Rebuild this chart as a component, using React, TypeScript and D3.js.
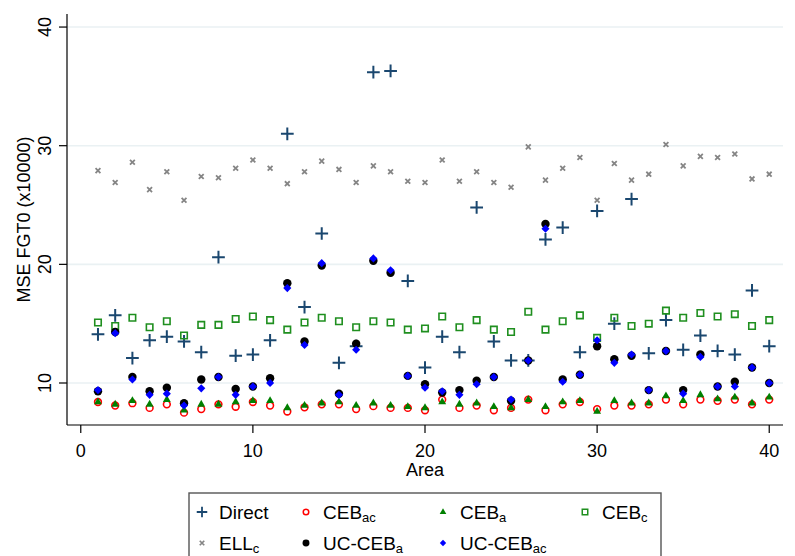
import * as d3 from "d3";

const areas = Array.from({ length: 40 }, (_, i) => i + 1);

const direct = [14.1, 15.7, 12.1, 13.6, 13.9, 13.5, 12.6, 20.6, 12.3, 12.4, 13.6, 31.0, 16.4, 22.6, 11.7, 13.1, 36.2, 36.3, 18.6, 11.3,
  13.9, 12.6, 24.8, 13.5, 11.9, 11.9, 22.1, 23.1, 12.6, 24.5, 15.0, 25.5, 12.5, 15.3, 12.8, 14.0, 12.7, 12.4, 17.8, 13.1];
const cebAc = [8.4, 8.1, 8.3, 7.9, 8.2, 7.5, 7.8, 8.2, 8.0, 8.4, 8.1, 7.6, 7.95, 8.2, 8.2, 7.8, 8.05, 7.9, 7.9, 7.7,
  8.6, 7.9, 8.1, 7.7, 7.9, 8.6, 7.7, 8.2, 8.4, 7.8, 8.1, 8.1, 8.2, 8.6, 8.2, 8.6, 8.5, 8.6, 8.2, 8.6];
const cebA = [8.4, 8.2, 8.5, 8.2, 8.6, 7.7, 8.2, 8.2, 8.4, 8.5, 8.5, 7.9, 8.1, 8.3, 8.4, 8.1, 8.3, 8.1, 8.0, 7.9,
  8.4, 8.2, 8.3, 8.0, 7.9, 8.6, 8.0, 8.4, 8.5, 7.6, 8.5, 8.3, 8.3, 8.9, 8.5, 9.0, 8.65, 8.8, 8.3, 8.8];
const cebC = [15.1, 14.8, 15.5, 14.7, 15.2, 14.0, 14.9, 14.9, 15.4, 15.6, 15.3, 14.5, 15.1, 15.5, 15.2, 14.7, 15.2, 15.1, 14.5, 14.6,
  15.6, 14.7, 15.3, 14.5, 14.3, 16.0, 14.5, 15.2, 15.7, 13.8, 15.5, 14.8, 15.0, 16.1, 15.5, 15.9, 15.6, 15.8, 14.8, 15.3];
const ellC = [27.9, 26.9, 28.6, 26.3, 27.8, 25.4, 27.4, 27.3, 28.1, 28.8, 28.1, 26.8, 27.8, 28.7, 28.0, 26.9, 28.3, 27.8, 27.0, 26.9,
  28.8, 27.0, 27.8, 26.9, 26.5, 29.9, 27.1, 28.1, 29.0, 25.4, 28.5, 27.1, 27.6, 30.1, 28.3, 29.1, 29.0, 29.3, 27.2, 27.6];
const ucCebA = [9.3, 14.3, 10.5, 9.3, 9.6, 8.3, 10.3, 10.5, 9.5, 9.7, 10.4, 18.4, 13.5, 19.9, 9.1, 13.3, 20.3, 19.3, 10.6, 9.9,
  9.2, 9.4, 10.2, 10.5, 8.5, 11.9, 23.4, 10.3, 10.7, 13.1, 12.0, 12.3, 9.4, 12.7, 9.4, 12.4, 9.7, 10.1, 11.3, 10.0];
const ucCebAc = [9.4, 14.2, 10.3, 9.0, 9.1, 8.1, 9.55, 10.5, 9.0, 9.7, 10.0, 18.0, 13.2, 20.1, 9.0, 12.8, 20.5, 19.5, 10.6, 9.6,
  9.3, 9.0, 9.9, 10.5, 8.6, 11.9, 23.0, 10.1, 10.7, 13.6, 11.7, 12.4, 9.4, 12.7, 9.1, 12.2, 9.7, 9.7, 11.3, 10.0];

const xTicks = [0, 10, 20, 30, 40];
const yTicks = [10, 20, 30, 40];

const FONT = "'Liberation Sans', Arial, sans-serif";
const W = 795;
const H = 556;

const x = d3.scaleLinear().domain([-0.8, 40.8]).range([67, 783]);
const y = d3.scaleLinear().domain([6.46, 41.1]).range([425, 14]);

// marker styles, in Stata's drawing order (later ones on top)
type Marker = { d: string; fill: string; stroke: string; sw: number };
const mk = (type: d3.SymbolType, size: number, fill: string, stroke: string, sw: number): Marker => ({
  d: d3.symbol(type, size)() as string, fill, stroke, sw,
});

const series = [
  { key: "direct", values: direct, m: mk(d3.symbolPlus, 55, "none", "#1a476f", 2), lm: mk(d3.symbolPlus, 38, "none", "#1a476f", 1.8), label: ["Direct", ""] },
  { key: "cebAc", values: cebAc, m: mk(d3.symbolCircle, 36, "none", "#ff0000", 1.6), lm: mk(d3.symbolCircle, 24, "none", "#ff0000", 1.5), label: ["CEB", "ac"] },
  { key: "cebA", values: cebA, m: mk(d3.symbolTriangle, 27, "#008000", "none", 0), lm: mk(d3.symbolTriangle, 19, "#008000", "none", 0), label: ["CEB", "a"] },
  { key: "cebC", values: cebC, m: mk(d3.symbolSquare, 42, "none", "#1f8f1f", 1.6), lm: mk(d3.symbolSquare, 30, "none", "#1f8f1f", 1.5), label: ["CEB", "c"] },
  { key: "ellC", values: ellC, m: mk(d3.symbolX, 17, "none", "#858585", 1.8), lm: mk(d3.symbolX, 15, "none", "#858585", 1.7), label: ["ELL", "c"] },
  { key: "ucA", values: ucCebA, m: mk(d3.symbolCircle, 56, "#000000", "none", 0), lm: mk(d3.symbolCircle, 38, "#000000", "none", 0), label: ["UC-CEB", "a"] },
  { key: "ucAc", values: ucCebAc, m: mk(d3.symbolDiamond2, 42, "#0000ff", "none", 0), lm: mk(d3.symbolDiamond2, 26, "#0000ff", "none", 0), label: ["UC-CEB", "ac"] },
];

// legend layout: two rows, four columns
const legendOrder = ["direct", "cebAc", "cebA", "cebC", "ellC", "ucA", "ucAc"];
const legendCols = [202, 306, 443, 585];
const legendRows = [512, 543];

export default function App() {
  return (
    <svg width={W} height={H} style={{ position: "absolute", left: 0, top: 0, background: "#fff" }} fontFamily={FONT}>
      <rect width={W} height={H} fill="#fff" />
      {/* grid */}
      {yTicks.map((t) => (
        <line key={"g" + t} x1={x.range()[0]} x2={x.range()[1]} y1={y(t)} y2={y(t)} stroke="#eaf1f3" strokeWidth={1.6} />
      ))}

      {/* points */}
      {series.map((s) => (
        <g key={s.key}>
          {s.values.map((v, i) => (
            <path key={i} d={s.m.d} transform={`translate(${x(areas[i])},${y(v)})`}
              fill={s.m.fill} stroke={s.m.stroke} strokeWidth={s.m.sw} />
          ))}
        </g>
      ))}

      {/* axes */}
      <line x1={67} x2={67} y1={y.range()[1]} y2={425} stroke="#000" strokeWidth={1.2} />
      <line x1={67} x2={783} y1={425} y2={425} stroke="#000" strokeWidth={1.2} />
      {yTicks.map((t) => (
        <g key={"yt" + t}>
          <line x1={59} x2={67} y1={y(t)} y2={y(t)} stroke="#000" strokeWidth={1.2} />
          <text transform={`translate(51,${y(t)}) rotate(-90)`} textAnchor="middle" fontSize={18} fill="#000">{t}</text>
        </g>
      ))}
      {xTicks.map((t) => (
        <g key={"xt" + t}>
          <line x1={x(t)} x2={x(t)} y1={425} y2={433} stroke="#000" strokeWidth={1.2} />
          <text x={x(t)} y={457} textAnchor="middle" fontSize={18} fill="#000">{t}</text>
        </g>
      ))}
      <text x={425} y={476} textAnchor="middle" fontSize={18} fill="#000">Area</text>
      <text transform={`translate(30,${(14 + 425) / 2}) rotate(-90)`} textAnchor="middle" fontSize={18} fill="#000">MSE FGT0 (x10000)</text>

      {/* legend */}
      <rect x={189} y={493} width={472} height={80} fill="#fff" stroke="#555" strokeWidth={1.4} />
      {legendOrder.map((k, i) => {
        const s = series.find((d) => d.key === k)!;
        const cx = legendCols[i % 4];
        const cy = legendRows[Math.floor(i / 4)];
        return (
          <g key={"l" + k}>
            <path d={s.lm.d} transform={`translate(${cx},${cy})`} fill={s.lm.fill} stroke={s.lm.stroke} strokeWidth={s.lm.sw} />
            <text x={cx + 17} y={cy + 7} fontSize={19} fill="#000">
              {s.label[0]}
              {s.label[1] && <tspan fontSize={13} dy={3}>{s.label[1]}</tspan>}
            </text>
          </g>
        );
      })}
    </svg>
  );
}
